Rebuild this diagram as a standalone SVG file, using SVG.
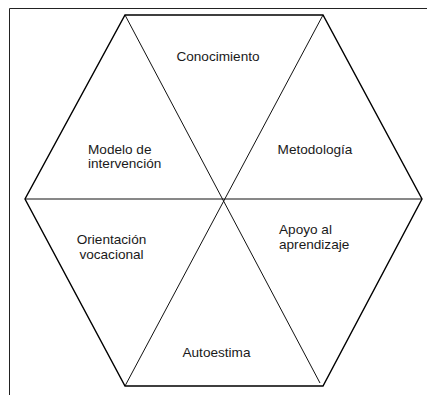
<svg xmlns="http://www.w3.org/2000/svg" width="427" height="395" viewBox="0 0 427 395">
<style>
.lbl{font-family:"Liberation Sans",Arial,sans-serif;font-size:13.6px;fill:#1a1a1a}
.mid{text-anchor:middle}
.outer{fill:none;stroke:#000;stroke-width:1.4;stroke-linejoin:miter}
.inner{fill:none;stroke:#111;stroke-width:1}
.frame{fill:none;stroke:#222;stroke-width:1}
.tri{fill:#fff;stroke:none}
</style>
<rect width="427" height="395" fill="#fff"/>
<g id="frame">
<polyline class="frame" points="9.5,395 9.5,8.5 427,8.5"/>
</g>
<g id="conocimiento">
<polygon class="tri" points="125,15 323,15 224,200"/>
<text class="lbl mid" x="218" y="61">Conocimiento</text>
</g>
<g id="metodologia">
<polygon class="tri" points="323,15 422,199 224,200"/>
<text class="lbl mid" x="315" y="153.5">Metodología</text>
</g>
<g id="apoyo">
<polygon class="tri" points="422,199 323,386 224,200"/>
<text class="lbl" x="279" y="233.5">Apoyo al</text>
<text class="lbl" x="279" y="248.5">aprendizaje</text>
</g>
<g id="autoestima">
<polygon class="tri" points="323,386 125,386 224,200"/>
<text class="lbl mid" x="216.5" y="356.5">Autoestima</text>
</g>
<g id="orientacion">
<polygon class="tri" points="125,386 25,199 224,200"/>
<text class="lbl mid" x="111.5" y="243.5">Orientación</text>
<text class="lbl mid" x="111.5" y="258.5">vocacional</text>
</g>
<g id="modelo">
<polygon class="tri" points="25,199 125,15 224,200"/>
<text class="lbl" x="88" y="153.5">Modelo de</text>
<text class="lbl" x="88" y="168">intervención</text>
</g>
<g id="connectors">
<line class="inner" x1="125" y1="15" x2="320" y2="383"/>
<line class="inner" x1="323" y1="15" x2="125" y2="386"/>
<line class="inner" x1="25" y1="199" x2="422" y2="199" stroke="#333"/>
<polygon class="outer" points="125,15 323,15 422,199 323,386 125,386 25,199"/>
</g>
</svg>
